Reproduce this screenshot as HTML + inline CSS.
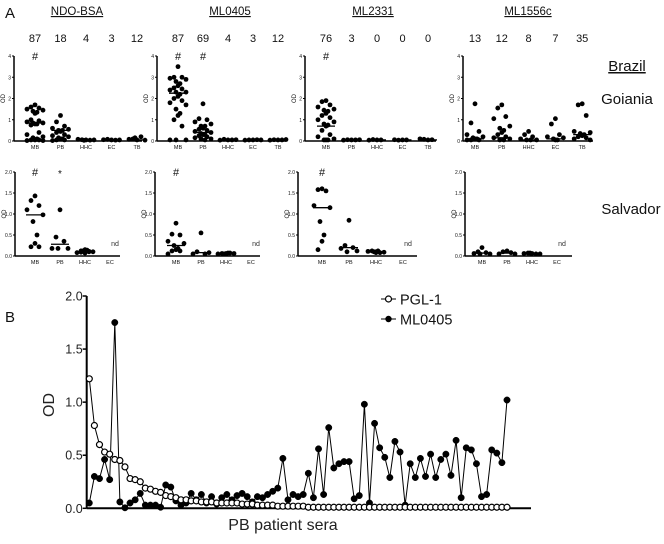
<!DOCTYPE html>
<html><head><meta charset="utf-8"><style>
html,body{margin:0;padding:0;background:#fff}
svg{display:block;font-family:"Liberation Sans",sans-serif}
</style></head><body>
<svg id="fig" width="664" height="544" viewBox="0 0 664 544" xmlns="http://www.w3.org/2000/svg"></svg>
<script>
// ---------- Panel A data ----------
const catsTop = ["MB","PB","HHC","EC","TB"];
const catsBot = ["MB","PB","HHC","EC"];
const antigens = ["NDO-BSA","ML0405","ML2331","ML1556c"];
const countsTop = [["87","18","4","3","12"],["87","69","4","3","12"],["76","3","0","0","0"],["13","12","8","7","35"]];
const topTicks = [0,1,2,3,4];
const botTicks = [0,0.5,1.0,1.5,2.0];
const botTickLabels = ["0.0","0.5","1.0","1.5","2.0"];

const p1Top = [
 [1.7,1.6,1.55,1.5,1.45,1.4,1.35,1.3,1.0,0.95,0.9,0.85,0.85,0.8,0.8,0.75,0.4,0.3,0.2,0.15,0.1,0.05,0.05,0.05,0.02,0.02],
 [1.2,0.9,0.7,0.6,0.55,0.5,0.5,0.45,0.4,0.3,0.25,0.2,0.15,0.1,0.1,0.05,0.05,0.02],
 [0.05,0.06,0.04,0.08,0.05,0.03],
 [0.05,0.08,0.04,0.06,0.05],
 [0.05,0.1,0.2,0.08,0.04,0.15]];
const p1TopMed = [0.85,0.5,0.05,0.05,0.05];
const p2Top = [
 [3.5,3.0,3.0,2.95,2.9,2.8,2.7,2.6,2.5,2.45,2.4,2.3,2.3,2.2,2.1,2.0,1.9,1.8,1.7,1.5,1.3,1.2,1.0,0.7,0.05,0.05,0.05],
 [1.75,1.05,1.0,0.9,0.8,0.7,0.7,0.6,0.55,0.5,0.45,0.4,0.35,0.3,0.3,0.25,0.2,0.15,0.1,0.1,0.05],
 [0.05,0.08,0.05,0.04,0.06],
 [0.05,0.05,0.06,0.04,0.05],
 [0.05,0.06,0.05,0.04,0.07]];
const p2TopMed = [2.25,0.4,0.05,0.05,0.05];
const p3Top = [
 [1.9,1.85,1.7,1.6,1.5,1.45,1.4,1.3,1.2,1.1,1.0,0.9,0.8,0.75,0.7,0.5,0.3,0.2,0.1,0.05,0.05,0.05],
 [0.05,0.06,0.05,0.04,0.06],
 [0.05,0.07,0.05,0.04],
 [0.05,0.04,0.05,0.06],
 [0.05,0.08,0.06,0.1]];
const p3TopMed = [0.7,0.05,0.05,0.05,0.05];
const p4Top = [
 [1.75,0.85,0.45,0.3,0.2,0.15,0.1,0.1,0.05,0.05,0.05],
 [1.7,1.55,1.15,1.05,0.7,0.6,0.5,0.4,0.3,0.2,0.15,0.1,0.05,0.05],
 [0.45,0.3,0.2,0.1,0.05,0.05,0.05],
 [1.05,0.8,0.3,0.2,0.15,0.1,0.05,0.05],
 [1.75,1.7,1.2,0.45,0.4,0.35,0.3,0.25,0.2,0.15,0.1,0.05]];
const p4TopMed = [0.1,0.15,0.05,0.1,0.3];

const p1Bot = [[1.43,1.32,1.2,1.1,0.98,0.82,0.5,0.3,0.22,0.22],[1.1,0.45,0.35,0.18,0.18,0.18],[0.15,0.12,0.1,0.08,0.1,0.12,0.14,0.07,0.09,0.11]];
const p1BotMed = [0.98,0.28,0.1];
const p2Bot = [[0.78,0.52,0.5,0.35,0.3,0.25,0.18,0.15,0.12,0.12,0.05],[0.55,0.1,0.05,0.05,0.08],[0.05,0.06,0.07,0.05,0.06,0.05,0.07,0.06]];
const p2BotMed = [0.25,0.08,0.06];
const p3Bot = [[1.6,1.58,1.55,1.2,1.15,0.82,0.5,0.35,0.15],[0.85,0.25,0.2,0.18,0.12,0.1],[0.1,0.12,0.08,0.11,0.09,0.1,0.12,0.08]];
const p3BotMed = [1.15,0.2,0.1];
const p4Bot = [[0.2,0.1,0.08,0.06,0.05,0.05],[0.12,0.1,0.08,0.05,0.05],[0.06,0.07,0.05,0.06,0.05,0.07]];
const p4BotMed = [0.07,0.07,0.06];

// ---------- Panel B data ----------
const pglValues = [1.22,0.78,0.60,0.53,0.51,0.46,0.45,0.39,0.28,0.27,0.25,0.19,0.18,0.16,0.15,0.12,0.11,0.10,0.08,0.08,
 0.07,0.07,0.06,0.06,0.06,0.05,0.05,0.05,0.05,0.05,0.04,0.04,0.04,0.03,0.03,0.03,0.03,0.02,0.02,0.02,
 0.02,0.02,0.02,0.01,0.01,0.01,0.01,0.01,0.01,0.01,0.01,0.01,0.01,0.01,0.01,0.01,0.01,0.01,0.01,0.01,
 0.01,0.01,0.01,0.01,0.01,0.01,0.01,0.01,0.01,0.01,0.01,0.01,0.01,0.01,0.01,0.01,0.01,0.01,0.01,0.01,0.01,0.01,0.01];
const ml0405Values = [0.05,0.30,0.28,0.46,0.27,1.75,0.06,0.005,0.05,0.08,0.14,0.03,0.03,0.03,0.01,0.22,0.20,0.07,0.03,0.05,
 0.14,0.08,0.13,0.05,0.11,0.04,0.10,0.13,0.08,0.12,0.14,0.11,0.06,0.11,0.10,0.13,0.16,0.19,0.47,0.08,
 0.13,0.11,0.13,0.33,0.10,0.56,0.13,0.76,0.38,0.42,0.44,0.44,0.09,0.12,0.98,0.05,0.80,0.57,0.48,0.29,
 0.63,0.53,0.03,0.42,0.29,0.47,0.30,0.51,0.29,0.46,0.51,0.31,0.64,0.10,0.57,0.55,0.42,0.11,0.13,0.55,0.52,0.43,1.02];
const bTicks = [0,0.5,1.0,1.5,2.0];
const bTickLabels = ["0.0","0.5","1.0","1.5","2.0"];

// ---------- drawing ----------
const svg = document.getElementById('fig');
const NS = "http://www.w3.org/2000/svg";
function mk(tag, attrs, parent){
  const e = document.createElementNS(NS, tag);
  for (const k in attrs) e.setAttribute(k, attrs[k]);
  (parent||svg).appendChild(e);
  return e;
}
function txt(s, x, y, size, anchor, parent, extra){
  const t = mk('text', Object.assign({x:x, y:y, 'font-size':size, 'text-anchor':anchor||'middle', fill:'#111'}, extra||{}), parent);
  t.textContent = s;
  return t;
}

let t = txt("A", 5, 18, 15, 'start');  
t = txt("B", 5, 322, 15, 'start');  

const panelsTop = [
 {ax:14, c0:35, step:25.5, xEnd:142, data:p1Top, med:p1TopMed, hash:[0], star:-1},
 {ax:157, c0:178, step:25, xEnd:286, data:p2Top, med:p2TopMed, hash:[0,1], star:-1},
 {ax:305, c0:326, step:25.5, xEnd:436, data:p3Top, med:p3TopMed, hash:[0], star:-1},
 {ax:463, c0:475, step:26.8, xEnd:593, data:p4Top, med:p4TopMed, hash:[], star:-1}];
const panelsBot = [
 {ax:15, c0:35, step:25, xEnd:120, data:p1Bot, med:p1BotMed, hash:[0], star:1},
 {ax:155, c0:176, step:25, xEnd:260, data:p2Bot, med:p2BotMed, hash:[0], star:-1},
 {ax:298, c0:322, step:27, xEnd:417, data:p3Bot, med:p3BotMed, hash:[0], star:-1},
 {ax:465, c0:482, step:25, xEnd:572, data:p4Bot, med:p4BotMed, hash:[], star:-1}];
const titleX = [77, 230, 373, 528];

function jitter(j){
  const offs = [0,-4,4,-8,8,-2,2];
  return offs[j % 7];
}

function drawScatter(p, idx, row){
  const g = mk('g', {});
  
  
  const yTop = row===0 ? 56 : 172, yBot = row===0 ? 141 : 256;
  const vmax = row===0 ? 4 : 2;
  const ys = v => yBot - (v/vmax)*(yBot-yTop);
  const cats = row===0 ? catsTop : catsBot;
  const xs = i => p.c0 + i*p.step;
  mk('line', {x1:p.ax, y1:yTop, x2:p.ax, y2:yBot, stroke:'#000','stroke-width':1.5}, g);
  mk('line', {x1:p.ax, y1:yBot, x2:p.xEnd, y2:yBot, stroke:'#000','stroke-width':1.5}, g);
  const ticks = row===0 ? topTicks : botTicks;
  ticks.forEach((tv,i)=>{
    mk('line', {x1:p.ax-2, y1:ys(tv), x2:p.ax, y2:ys(tv), stroke:'#000','stroke-width':1}, g);
    const lab = row===0 ? String(tv) : botTickLabels[i];
    const tt = txt(lab, p.ax-3, ys(tv)+2, 5, 'end', g);
    
    
  });
  const yl = txt("OD", 0, 0, 6, 'middle', g, {transform:`translate(${p.ax-9},${(yTop+yBot)/2}) rotate(-90)`});
  
  
  cats.forEach((c,i)=>{
    const cl = txt(c, xs(i), yBot+8, 5.5, 'middle', g);
    
    
  });
  p.data.forEach((arr,i)=>{
    arr.forEach((v,j)=>{
      const c = mk('circle', {cx:xs(i)+jitter(j), cy:ys(v), r:2.4, fill:'#000'}, g);
      
      
    });
    const m = p.med[i];
    const ml = mk('line', {x1:xs(i)-9, y1:ys(m), x2:xs(i)+9, y2:ys(m), stroke:'#000','stroke-width':1.3}, g);
    
    
  });
  if (row===1){
    const nd = txt("nd", xs(3)+5, yBot-10, 7, 'middle', g, {fill:'#333'});
    
    
  }
  p.hash.forEach(i=>{
    const h = txt("#", xs(i), yTop+4, 11, 'middle', g);
    
    
  });
  if (p.star>=0){
    const s = txt("*", xs(p.star), yTop+5, 10, 'middle', g);
    
    
  }
}

antigens.forEach((a,idx)=>{
  const tt = txt(a, titleX[idx], 15, 11.5, 'middle', null, {'text-decoration':'underline'});
  
  
  const p = panelsTop[idx];
  countsTop[idx].forEach((c,i)=>{
    const ct = txt(c, p.c0 + i*p.step, 42, 11, 'middle');
    
    
  });
  drawScatter(panelsTop[idx], idx, 0);
  drawScatter(panelsBot[idx], idx, 1);
});

t = txt("Brazil", 627, 71, 15, 'middle', null, {'text-decoration':'underline'});  
t = txt("Goiania", 627, 104, 15, 'middle');  
t = txt("Salvador", 631, 214, 15, 'middle');  

// ---------- Panel B chart ----------
const bx0 = 86.7, by0 = 508.3, by1 = 296, bxEnd = 531;
const px0 = 89.3, pstep = 5.094;
const bY = v => by0 - (v/2)*(by0-by1);
const bX = i => px0 + i*pstep;
const gb = mk('g', {});


mk('line', {x1:bx0, y1:by1, x2:bx0, y2:by0, stroke:'#000','stroke-width':2}, gb);
mk('line', {x1:bx0, y1:by0, x2:bxEnd, y2:by0, stroke:'#000','stroke-width':2}, gb);
bTicks.forEach((tv,i)=>{
  mk('line', {x1:bx0-4, y1:bY(tv), x2:bx0, y2:bY(tv), stroke:'#000','stroke-width':1.5}, gb);
  const tl = txt(bTickLabels[i], bx0-4, bY(tv)+4.5, 12.5, 'end', gb, {fill:'#222'});
  
  
});
t = txt("OD", 0, 0, 16, 'middle', gb, {transform:'translate(54,405) rotate(-90)', fill:'#222'});
 
t = txt("PB patient sera", 283, 530, 16, 'middle', gb, {fill:'#222'});
 

function series(vals, open, name){
  const g = mk('g', {}, gb);
  
  
  const d = vals.map((v,i)=>(i?'L':'M')+bX(i).toFixed(1)+','+bY(v).toFixed(1)).join(' ');
  const pl = mk('path', {d:d, fill:'none', stroke:'#000','stroke-width':1}, g);
  
  
  vals.forEach((v,i)=>{
    const c = mk('circle', {cx:bX(i), cy:bY(v), r:open?3:3.2, fill:open?'#fff':'#000', stroke:'#000','stroke-width':open?1.2:0.5}, g);
    
    
  });
}
series(ml0405Values, false, 'ml0405-series');
series(pglValues, true, 'pgl1-series');

const lg = mk('g', {});


mk('line', {x1:381, y1:299, x2:396, y2:299, stroke:'#000','stroke-width':1}, lg);
mk('circle', {cx:388.5, cy:299, r:3, fill:'#fff', stroke:'#000','stroke-width':1.2}, lg);
t = txt("PGL-1", 400, 304.5, 14.5, 'start', lg);  
mk('line', {x1:381, y1:319, x2:396, y2:319, stroke:'#000','stroke-width':1}, lg);
mk('circle', {cx:388.5, cy:319, r:3.2, fill:'#000'}, lg);
t = txt("ML0405", 400, 324.5, 14.5, 'start', lg);  
</script>
</body></html>
